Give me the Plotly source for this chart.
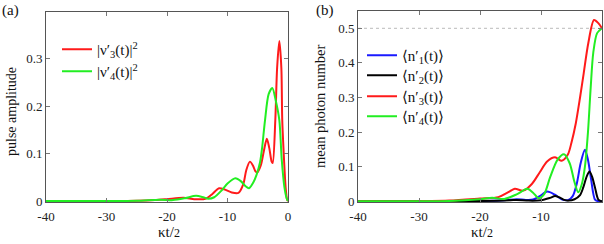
import plotly.graph_objects as go

W, H = 604, 244

# ---------------- data ----------------
# panel (a): pulse amplitude
xa_red = [-40, -30, -25, -22, -20, -17.3, -15.5, -14, -13.4, -12.5, -11.4, -10.4, -9.3, -8.2,
          -7.4, -6.9, -6.3, -5.8, -5.4, -5.1, -4.5, -4.0, -3.5, -3.1, -2.7, -2.53, -2.1, -1.8,
          -1.43, -1.1, -0.95, -0.66, -0.4, -0.15, 0]
ya_red = [0, 0, 0.0005, 0.002, 0.004, 0.007, 0.004, 0.004, 0.006, 0.015, 0.027, 0.024, 0.018, 0.017,
          0.035, 0.065, 0.083, 0.075, 0.063, 0.060, 0.075, 0.105, 0.131, 0.112, 0.083, 0.080, 0.17, 0.28,
          0.337, 0.28, 0.17, 0.088, 0.03, 0.003, 0]
xa_grn = [-40, -30, -25, -21.2, -19, -17, -15.2, -14, -13.2, -12.2, -11, -10, -8.7, -7.8, -7.0,
          -6.45, -5.74, -5.2, -4.63, -4.3, -3.8, -3.2, -2.6, -2.0, -1.43, -1.04, -0.6, -0.2, 0]
ya_grn = [0, 0, 0.0005, 0.003, 0.002, 0.006, 0.011, 0.008, 0.005, 0.008, 0.022, 0.037, 0.048, 0.042, 0.031,
          0.027, 0.039, 0.055, 0.081, 0.11, 0.17, 0.225, 0.238, 0.21, 0.17, 0.088, 0.03, 0.005, 0]

# panel (b): mean photon number
xb_blu = [-40, -20, -16, -14, -12.5, -11.3, -10.2, -9.0, -7.8, -6.5, -5.5, -4.8, -4.15, -3.5, -2.8,
          -2.3, -1.8, -1.15, -0.6, 0]
yb_blu = [0, 0.001, 0.003, 0.006, 0.004, 0.005, 0.015, 0.028, 0.02, 0.005, 0.004, 0.015, 0.05, 0.11, 0.149,
          0.12, 0.065, 0.005, 0, 0]
xb_blk = [-40, -20, -15, -14, -12, -10, -8.5, -7.7, -6.8, -6.2, -5.5, -4.5, -3.6, -3.07, -2.5, -2.05,
          -1.6, -1.15, -0.6, 0]
yb_blk = [0, 0.001, 0.003, 0.004, 0.002, 0.003, 0.01, 0.015, 0.01, 0.004, 0.002, 0.006, 0.018, 0.04, 0.072,
          0.086, 0.07, 0.04, 0.005, 0]
xb_red = [-40, -30, -25, -20, -17, -15.5, -14.3, -12.9, -11.5, -10.2, -9.0, -7.7, -6.6, -5.6, -5.0,
          -4.3, -3.6, -3.0, -2.25, -1.31, -0.6, 0]
yb_red = [0, 0.0005, 0.002, 0.008, 0.012, 0.025, 0.036, 0.031, 0.05, 0.084, 0.115, 0.127, 0.117, 0.135,
          0.17, 0.225, 0.3, 0.37, 0.457, 0.524, 0.515, 0.5]
xb_grn = [-40, -25, -20, -18, -16, -14, -12.25, -11.3, -10.4, -9.5, -8.5, -7.3, -6.23, -5.3, -4.5,
          -3.9, -3.3, -2.8, -2.3, -1.85, -1.43, -0.8, 0]
yb_grn = [0, 0.001, 0.006, 0.01, 0.007, 0.02, 0.036, 0.025, 0.009, 0.02, 0.07, 0.12, 0.136, 0.11, 0.055,
          0.026, 0.05, 0.1, 0.2, 0.33, 0.43, 0.486, 0.5]

x_ticks = [-40, -30, -20, -10, 0]
x_ticklabels = ["-40", "-30", "-20", "-10", "0"]
ya_ticks = [0, 0.1, 0.2, 0.3]
ya_ticklabels = ["0", "0.1", "0.2", "0.3"]
yb_ticks = [0, 0.1, 0.2, 0.3, 0.4, 0.5]
yb_ticklabels = ["0", "0.1", "0.2", "0.3", "0.4", "0.5"]

names_a = ["|ν′<sub>3</sub>(t)|<sup>2</sup>", "|ν′<sub>4</sub>(t)|<sup>2</sup>"]
names_b = ["⟨n′<sub>1</sub>(t)⟩", "⟨n′<sub>2</sub>(t)⟩", "⟨n′<sub>3</sub>(t)⟩", "⟨n′<sub>4</sub>(t)⟩"]

RED, GRN, BLU, BLK = "#ff1a1a", "#22ee22", "#1a1aff", "#000000"
SERIF = "Liberation Serif, DejaVu Serif, serif"

fig = go.Figure()

def add(x, y, name, color, xa, ya, legend):
    fig.add_trace(go.Scatter(x=x, y=y, name=name, mode="lines",
                             line=dict(color=color, width=2, shape="spline", smoothing=0.8),
                             xaxis=xa, yaxis=ya, legend=legend))

# dotted reference line at 0.5 in panel b
fig.add_trace(go.Scatter(x=[-40, 0], y=[0.5, 0.5], mode="lines", showlegend=False,
                         line=dict(color="#bbbbbb", width=1, dash="dot"), xaxis="x2", yaxis="y2"))

add(xa_red, ya_red, names_a[0], RED, "x", "y", "legend")
add(xa_grn, ya_grn, names_a[1], GRN, "x", "y", "legend2")
add(xb_blu, yb_blu, names_b[0], BLU, "x2", "y2", "legend3")
add(xb_blk, yb_blk, names_b[1], BLK, "x2", "y2", "legend4")
add(xb_red, yb_red, names_b[2], RED, "x2", "y2", "legend5")
add(xb_grn, yb_grn, names_b[3], GRN, "x2", "y2", "legend6")

ax_common = dict(showline=True, mirror="ticks", linecolor="#555555", linewidth=1,
                 ticks="inside", ticklen=4, tickcolor="#777777", showgrid=False, zeroline=False,
                 automargin=False,
                 tickfont=dict(family=SERIF, size=13, color="#222222"))

def px_x(p):
    return p / W

def px_y(p):
    return 1 - p / H

def leg(xp, yp):
    return dict(x=px_x(xp), y=px_y(yp), xanchor="left", yanchor="top",
                bgcolor="rgba(0,0,0,0)", font=dict(family=SERIF, size=15, color="#111111"),
                itemwidth=30, tracegroupgap=0)

fig.update_layout(
    template="none",
    width=W, height=H,
    margin=dict(l=0, r=0, t=0, b=0, autoexpand=False),
    paper_bgcolor="white", plot_bgcolor="white",
    xaxis=dict(domain=[px_x(46), px_x(288)], range=[-40, 0], tickvals=x_ticks,
               ticktext=x_ticklabels, anchor="y", ticklabelstandoff=2, **ax_common),
    yaxis=dict(domain=[px_y(202), px_y(12)], range=[-0.002, 0.398], tickvals=ya_ticks,
               ticktext=ya_ticklabels, anchor="x", **ax_common),
    xaxis2=dict(domain=[px_x(358), px_x(602)], range=[-40, 0], tickvals=x_ticks,
                ticktext=x_ticklabels, anchor="y2", ticklabelstandoff=2, **ax_common),
    yaxis2=dict(domain=[px_y(202), px_y(11)], range=[-0.002, 0.55], tickvals=yb_ticks,
                ticktext=yb_ticklabels, anchor="x2", **ax_common),
    legend=leg(57, 33),
    legend2=leg(57, 55),
    legend3=leg(362, 39),
    legend4=leg(362, 59),
    legend5=leg(362, 80),
    legend6=leg(362, 100),
    showlegend=True,
)

ann_font = dict(family=SERIF, size=15, color="#111111")

def ann(text, x, y, font, angle=0):
    fig.add_annotation(text=text, x=px_x(x), y=px_y(y), xref="paper", yref="paper",
                       xanchor="center", yanchor="middle", showarrow=False,
                       textangle=angle, font=font)

ann("(a)", 10, 10, ann_font)
ann("(b)", 325, 10, ann_font)
ann("pulse amplitude", 11, 112, dict(family=SERIF, size=14, color="#111111"), -90)
ann("mean photon number", 320, 107, dict(family=SERIF, size=14.5, color="#111111"), -90)
ann("κt/<span style='font-size:12px'>2</span>", 169, 232, dict(family=SERIF, size=15, color="#111111"))
ann("κt/<span style='font-size:12px'>2</span>", 482, 232, dict(family=SERIF, size=15, color="#111111"))

fig.write_html("out.html", config={"displayModeBar": False},
               post_script="document.body.style.margin='0';document.body.style.padding='0';"
                           "document.documentElement.style.overflow='hidden';")
